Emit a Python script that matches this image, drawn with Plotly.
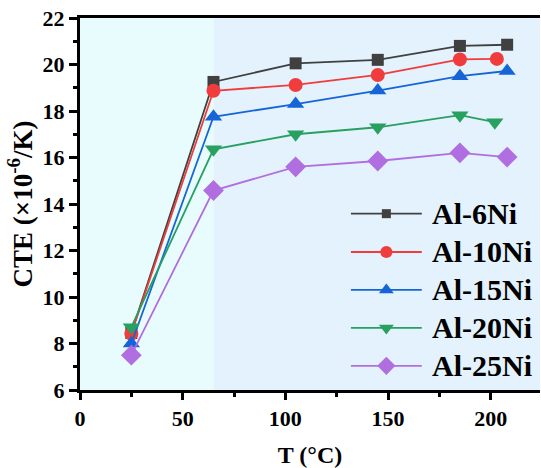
import plotly.graph_objects as go

# Temperature points (°C) and CTE values (×10^-6/K) for each alloy
alloys = ["Al-6Ni", "Al-10Ni", "Al-15Ni", "Al-20Ni", "Al-25Ni"]
t_6ni = [25, 65, 105, 145, 185, 208]
t_10ni = [25, 65, 105, 145, 185, 203]
t_15ni = [25, 65, 105, 145, 185, 208]
t_20ni = [25, 65, 105, 145, 185, 202]
t_25ni = [25, 65, 105, 145, 185, 208]
cte_6ni = [8.45, 19.25, 20.05, 20.2, 20.8, 20.85]
cte_10ni = [8.42, 18.87, 19.12, 19.55, 20.22, 20.24]
cte_15ni = [8.0, 17.75, 18.3, 18.88, 19.5, 19.72]
cte_20ni = [8.7, 16.35, 17.0, 17.3, 17.82, 17.52]
cte_25ni = [7.5, 14.58, 15.6, 15.85, 16.2, 16.02]

temps = [t_6ni, t_10ni, t_15ni, t_20ni, t_25ni]
ctes = [cte_6ni, cte_10ni, cte_15ni, cte_20ni, cte_25ni]
colors = ["#404040", "#f03c3c", "#1565d8", "#27a060", "#b06ee0"]
symbols = ["square", "circle", "triangle-up", "triangle-down", "diamond"]
sizes = [12, 14, 15, 15, 16]
key_sizes = [9, 12, 13, 13, 14]

# Shaded temperature regions
region_edges = [0, 65, 225]
region_colors = ["#e9fcfd", "#e3f2fc"]

serif = "Liberation Serif"

fig = go.Figure()

for name, x, y, c, s, sz in zip(alloys, temps, ctes, colors, symbols, sizes):
    fig.add_trace(go.Scatter(
        x=x, y=y, mode="lines+markers", name=name,
        line=dict(color=c, width=1.8),
        marker=dict(symbol=s, size=sz, color=c),
        showlegend=False,
    ))

# Key drawn on an overlaid unit axis
key_x0, key_x1, key_tx = 0.589, 0.743, 0.761
key_rows = [0.474, 0.371, 0.269, 0.167, 0.065]
for name, c, s, ksz, ky in zip(alloys, colors, symbols, key_sizes, key_rows):
    fig.add_trace(go.Scatter(
        x=[key_x0, key_x1], y=[ky, ky], mode="lines",
        line=dict(color=c, width=1.8), xaxis="x2", yaxis="y2",
        showlegend=False, hoverinfo="skip",
    ))
    fig.add_trace(go.Scatter(
        x=[(key_x0 + key_x1) / 2], y=[ky], mode="markers",
        marker=dict(symbol=s, size=ksz, color=c), xaxis="x2", yaxis="y2",
        showlegend=False, hoverinfo="skip",
    ))
    fig.add_annotation(
        x=key_tx, y=ky, xref="x2", yref="y2", text=name,
        showarrow=False, xanchor="left", yanchor="middle",
        font=dict(family=serif, size=30, color="black", weight="bold"),
    )

for i, col in enumerate(region_colors):
    fig.add_shape(
        type="rect", xref="x", yref="paper",
        x0=region_edges[i], x1=region_edges[i + 1], y0=0, y1=1,
        fillcolor=col, line=dict(width=0), layer="below",
    )

tick_font = dict(family=serif, size=22, color="black", weight="bold")
xtitle_font = dict(family=serif, size=24, color="black", weight="bold")
ytitle_font = dict(family=serif, size=27, color="black", weight="bold")

fig.update_layout(
    width=541, height=468,
    margin=dict(l=80, r=1, t=18, b=78),
    paper_bgcolor="white", plot_bgcolor="white",
    xaxis=dict(
        range=[0, 224], tickvals=[0, 50, 100, 150, 200],
        ticks="outside", ticklen=7, tickwidth=2.5, tickcolor="black",
        minor=dict(tickvals=[25, 75, 125, 175], ticks="outside", ticklen=4,
                   tickwidth=2.5, tickcolor="black"),
        showline=True, linewidth=3, linecolor="black", mirror=True,
        showgrid=False, zeroline=False, automargin=False,
        tickfont=tick_font,
        title=dict(text="T (°C)", font=xtitle_font, standoff=22),
    ),
    yaxis=dict(
        range=[6, 22], tickvals=list(range(6, 23, 2)),
        ticks="outside", ticklen=8, tickwidth=2.5, tickcolor="black",
        minor=dict(tickvals=list(range(7, 22, 2)), ticks="outside", ticklen=4,
                   tickwidth=2.5, tickcolor="black"),
        showline=True, linewidth=3, linecolor="black",
        showgrid=False, zeroline=False, automargin=False,
        tickfont=tick_font,
        title=dict(text="CTE (×10<sup>-6</sup>/K)", font=ytitle_font, standoff=3),
    ),
    xaxis2=dict(overlaying="x", range=[0, 1], visible=False, fixedrange=True),
    yaxis2=dict(overlaying="y", range=[0, 1], visible=False, fixedrange=True),
)

fig.write_html("out.html")
